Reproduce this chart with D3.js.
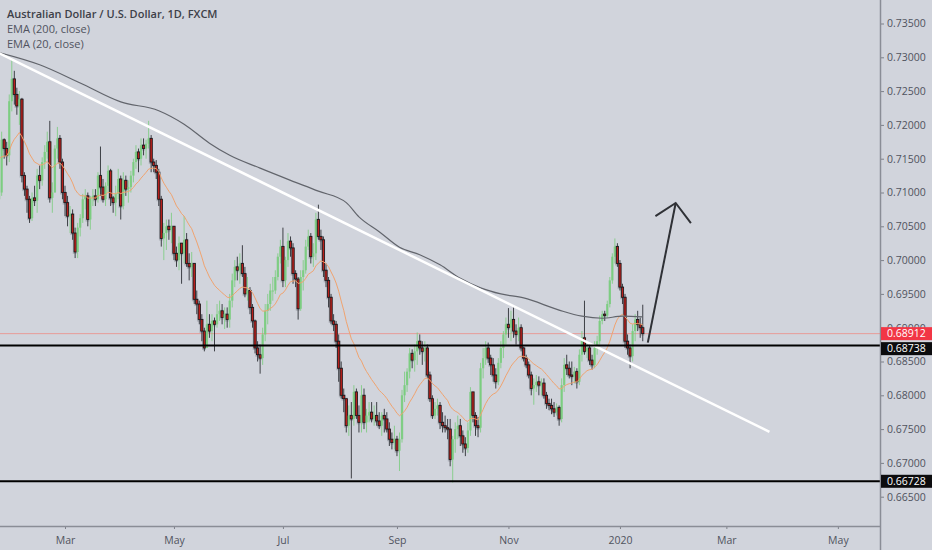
<!DOCTYPE html>
<html>
<head>
<meta charset="utf-8">
<script src="https://cdn.jsdelivr.net/npm/d3@7"></script>
<style>
body { margin: 0; background: #d1d4dc; overflow: hidden; }
text { font-family: "Open Sans", "Noto Sans", sans-serif; }
</style>
</head>
<body>
<script>

// ---- data (AUD/USD daily, FXCM) ----
// one bar per weekday starting at startDate, each bar opens at the previous close
var startDate = "2019-01-24";
var firstOpen = 0.7090;

var closes = [
  // Jan 24 - Jan 31
  0.7100, 0.7178, 0.7165, 0.7155, 0.7235, 0.7268,
  // Feb
  0.7245, 0.7228, 0.7238, 0.7125, 0.7105, 0.7090, 0.7062, 0.7092, 0.7088, 0.7125,
  0.7118, 0.7145, 0.7160, 0.7175, 0.7092, 0.7100, 0.7165, 0.7180, 0.7145, 0.7100,
  // Mar
  0.7085, 0.7065, 0.7068, 0.7040, 0.7012, 0.7048, 0.7062, 0.7090, 0.7095, 0.7060, 0.7092,
  0.7095, 0.7090, 0.7125, 0.7108, 0.7090, 0.7110, 0.7132, 0.7092, 0.7085, 0.7098,
  // Apr
  0.7120, 0.7080, 0.7118, 0.7105, 0.7108, 0.7125, 0.7145, 0.7160, 0.7150, 0.7170, 0.7165,
  0.7172, 0.7180, 0.7145, 0.7140, 0.7130, 0.7090, 0.7032, 0.7040, 0.7050, 0.7045, 0.7050,
  // May
  0.7010, 0.7000, 0.7025, 0.7010, 0.7030, 0.6995, 0.6990, 0.6995, 0.6942, 0.6935, 0.6912, 0.6895,
  0.6870, 0.6905, 0.6895, 0.6910, 0.6905, 0.6920, 0.6925, 0.6915, 0.6920, 0.6912, 0.6940,
  // Jun
  0.6970, 0.6990, 0.6985, 0.6995, 0.6980, 0.6950, 0.6955, 0.6930, 0.6910, 0.6870,
  0.6860, 0.6855, 0.6890, 0.6925, 0.6935, 0.6955, 0.6955, 0.6975, 0.7005, 0.7020,
  // Jul
  0.6970, 0.7000, 0.7028, 0.7018, 0.6980, 0.6972, 0.6928, 0.6975, 0.6985, 0.7020, 0.7035, 0.7005,
  0.7010, 0.7060, 0.7035, 0.7030, 0.6985, 0.6970, 0.6945, 0.6910, 0.6905, 0.6880, 0.6840,
  // Aug
  0.6800, 0.6795, 0.6755, 0.6770, 0.6765, 0.6805, 0.6770, 0.6760, 0.6800, 0.6760, 0.6770,
  0.6775, 0.6765, 0.6770, 0.6762, 0.6755, 0.6770, 0.6765, 0.6750, 0.6735, 0.6730, 0.6735,
  // Sep
  0.6718, 0.6735, 0.6800, 0.6815, 0.6835, 0.6862, 0.6852, 0.6865, 0.6880, 0.6870, 0.6865,
  0.6870, 0.6830, 0.6795, 0.6770, 0.6780, 0.6785, 0.6760, 0.6755, 0.6752, 0.6750,
  // Oct
  0.6705, 0.6735, 0.6750, 0.6755, 0.6740, 0.6728, 0.6722, 0.6748, 0.6805, 0.6770, 0.6755, 0.6752,
  0.6840, 0.6855, 0.6870, 0.6855, 0.6845, 0.6830, 0.6820, 0.6848, 0.6870, 0.6890, 0.6905,
  // Nov
  0.6900, 0.6912, 0.6895, 0.6890, 0.6900, 0.6870, 0.6855, 0.6845, 0.6830, 0.6810, 0.6815,
  0.6820, 0.6815, 0.6818, 0.6800, 0.6788, 0.6785, 0.6780, 0.6775, 0.6782, 0.6765,
  // Dec
  0.6815, 0.6845, 0.6840, 0.6830, 0.6828, 0.6835, 0.6820, 0.6860, 0.6885, 0.6865, 0.6870,
  0.6852, 0.6845, 0.6870, 0.6880, 0.6910, 0.6920, 0.6918, 0.6935, 0.6970, 0.7005, 0.7020,
  // Jan 2020
  0.6995, 0.6960, 0.6945, 0.6880, 0.6870, 0.6858, 0.6895, 0.6912, 0.6905, 0.6900, 0.68912
];

var highs = [
  0.7135, 0.7190, 0.7180, 0.7175, 0.7245, 0.7296,
  0.7280, 0.7255, 0.7250, 0.7240, 0.7130, 0.7110, 0.7095, 0.7100, 0.7110, 0.7135,
  0.7140, 0.7152, 0.7170, 0.7190, 0.7206, 0.7115, 0.7170, 0.7197, 0.7185, 0.7150,
  0.7110, 0.7095, 0.7080, 0.7075, 0.7048, 0.7055, 0.7068, 0.7098, 0.7105, 0.7100, 0.7095,
  0.7105, 0.7105, 0.7130, 0.7168, 0.7120, 0.7115, 0.7140, 0.7135, 0.7095, 0.7110,
  0.7135, 0.7125, 0.7130, 0.7125, 0.7118, 0.7132, 0.7150, 0.7170, 0.7165, 0.7180, 0.7180,
  0.7178, 0.7206, 0.7185, 0.7150, 0.7148, 0.7135, 0.7095, 0.7055, 0.7060, 0.7060, 0.7070,
  0.7050, 0.7020, 0.7035, 0.7025, 0.7065, 0.7040, 0.7010, 0.7012, 0.6995, 0.6955, 0.6940, 0.6920,
  0.6900, 0.6940, 0.6920, 0.6920, 0.6915, 0.6935, 0.6940, 0.6935, 0.6930, 0.6930, 0.6950,
  0.6980, 0.7000, 0.7005, 0.7010, 0.7022, 0.6990, 0.6975, 0.6960, 0.6935, 0.6912,
  0.6880, 0.6875, 0.6900, 0.6935, 0.6950, 0.6965, 0.6975, 0.6985, 0.7010, 0.7030,
  0.7048, 0.7005, 0.7040, 0.7035, 0.7025, 0.6985, 0.6975, 0.6985, 0.7000, 0.7030, 0.7045, 0.7040,
  0.7025, 0.7070, 0.7082, 0.7045, 0.7035, 0.6995, 0.6975, 0.6950, 0.6920, 0.6910, 0.6890,
  0.6850, 0.6810, 0.6795, 0.6785, 0.6790, 0.6815, 0.6810, 0.6785, 0.6815, 0.6810, 0.6780,
  0.6790, 0.6790, 0.6785, 0.6790, 0.6775, 0.6775, 0.6780, 0.6775, 0.6760, 0.6745, 0.6755,
  0.6740, 0.6745, 0.6808, 0.6835, 0.6840, 0.6870, 0.6868, 0.6875, 0.6893, 0.6890, 0.6880,
  0.6880, 0.6875, 0.6835, 0.6800, 0.6790, 0.6795, 0.6790, 0.6775, 0.6770, 0.6765,
  0.6765, 0.6740, 0.6760, 0.6770, 0.6765, 0.6748, 0.6738, 0.6760, 0.6812, 0.6800, 0.6775, 0.6768,
  0.6848, 0.6870, 0.6880, 0.6878, 0.6860, 0.6855, 0.6840, 0.6855, 0.6880, 0.6895, 0.6915,
  0.6929, 0.6925, 0.6930, 0.6905, 0.6915, 0.6905, 0.6872, 0.6860, 0.6850, 0.6835, 0.6825,
  0.6830, 0.6828, 0.6825, 0.6825, 0.6805, 0.6795, 0.6795, 0.6790, 0.6788, 0.6785,
  0.6825, 0.6855, 0.6860, 0.6850, 0.6850, 0.6842, 0.6840, 0.6868, 0.6895, 0.6940, 0.6880,
  0.6875, 0.6860, 0.6880, 0.6888, 0.6918, 0.6925, 0.6925, 0.6940, 0.6975, 0.7010, 0.7032,
  0.7025, 0.7000, 0.6965, 0.6950, 0.6890, 0.6875, 0.6905, 0.6920, 0.6925, 0.6915, 0.6934
];

var lows = [
  0.7070, 0.7095, 0.7150, 0.7140, 0.7145, 0.7220,
  0.7230, 0.7215, 0.7200, 0.7115, 0.7095, 0.7070, 0.7055, 0.7058, 0.7080, 0.7070,
  0.7105, 0.7110, 0.7135, 0.7150, 0.7085, 0.7070, 0.7100, 0.7150, 0.7135, 0.7090,
  0.7065, 0.7050, 0.7040, 0.7030, 0.7003, 0.7003, 0.7035, 0.7055, 0.7075, 0.7050, 0.7045,
  0.7080, 0.7080, 0.7085, 0.7095, 0.7085, 0.7080, 0.7100, 0.7080, 0.7070, 0.7065,
  0.7090, 0.7060, 0.7075, 0.7095, 0.7085, 0.7100, 0.7115, 0.7135, 0.7130, 0.7140, 0.7155,
  0.7150, 0.7165, 0.7130, 0.7130, 0.7120, 0.7080, 0.7020, 0.7000, 0.7015, 0.7030, 0.7025,
  0.7000, 0.6990, 0.6985, 0.6965, 0.6995, 0.6990, 0.6970, 0.6975, 0.6935, 0.6920, 0.6905, 0.6880,
  0.6865, 0.6870, 0.6885, 0.6880, 0.6865, 0.6900, 0.6910, 0.6905, 0.6898, 0.6900, 0.6900,
  0.6930, 0.6960, 0.6970, 0.6965, 0.6975, 0.6945, 0.6940, 0.6920, 0.6900, 0.6862,
  0.6850, 0.6832, 0.6845, 0.6880, 0.6905, 0.6925, 0.6940, 0.6950, 0.6970, 0.6995,
  0.6960, 0.6960, 0.6990, 0.7005, 0.6965, 0.6960, 0.6912, 0.6925, 0.6955, 0.6980, 0.7015, 0.6995,
  0.6990, 0.7000, 0.7030, 0.7015, 0.6975, 0.6960, 0.6930, 0.6905, 0.6895, 0.6870, 0.6820,
  0.6795, 0.6775, 0.6745, 0.6740, 0.6677, 0.6755, 0.6765, 0.6745, 0.6745, 0.6750, 0.6745,
  0.6760, 0.6760, 0.6755, 0.6755, 0.6750, 0.6740, 0.6745, 0.6745, 0.6725, 0.6720, 0.6720,
  0.6710, 0.6688, 0.6730, 0.6790, 0.6805, 0.6825, 0.6840, 0.6835, 0.6845, 0.6860, 0.6845,
  0.6850, 0.6825, 0.6790, 0.6765, 0.6765, 0.6770, 0.6750, 0.6745, 0.6745, 0.6735,
  0.6695, 0.6671, 0.6715, 0.6735, 0.6725, 0.6715, 0.6710, 0.6715, 0.6740, 0.6760, 0.6740, 0.6738,
  0.6745, 0.6825, 0.6845, 0.6848, 0.6830, 0.6820, 0.6810, 0.6815, 0.6840, 0.6855, 0.6875,
  0.6885, 0.6880, 0.6885, 0.6875, 0.6880, 0.6865, 0.6850, 0.6840, 0.6825, 0.6800, 0.6786,
  0.6805, 0.6800, 0.6800, 0.6795, 0.6780, 0.6778, 0.6772, 0.6768, 0.6770, 0.6755,
  0.6760, 0.6805, 0.6830, 0.6825, 0.6815, 0.6818, 0.6810, 0.6815, 0.6850, 0.6860, 0.6855,
  0.6845, 0.6838, 0.6840, 0.6860, 0.6875, 0.6905, 0.6910, 0.6915, 0.6930, 0.6965, 0.6995,
  0.6990, 0.6955, 0.6935, 0.6870, 0.6860, 0.6840, 0.6850, 0.6880, 0.6895, 0.6885, 0.6880
];

// EMA 20 starts from its value at the left edge
var ema20Seed = 0.7150;

// EMA 200 read at points along the grey line
var ema200Dates = ["2019-01-24", "2019-02-15", "2019-03-11", "2019-04-02", "2019-04-23", "2019-05-07",
  "2019-05-21", "2019-05-31", "2019-06-18", "2019-07-04", "2019-07-19", "2019-08-05", "2019-08-12",
  "2019-08-22", "2019-09-03", "2019-09-13", "2019-09-25", "2019-10-07", "2019-10-17", "2019-10-29",
  "2019-11-11", "2019-11-29", "2019-12-12", "2019-12-24", "2020-01-03", "2020-01-15"];
var ema200Values = [0.7307, 0.7289, 0.7262, 0.7234, 0.7221, 0.7201,
  0.7173, 0.7155, 0.7136, 0.7118, 0.7102, 0.7085, 0.7064,
  0.7042, 0.7019, 0.7008, 0.6993, 0.6973, 0.6959, 0.6950,
  0.6944, 0.6926, 0.6917, 0.6914, 0.6917, 0.6916];

// drawings
var levels = [0.68738, 0.66728];
var lastPrice = 0.68912;
var trendDates = ["2019-01-24", "2020-03-25"];
var trendPrices = [0.7306, 0.6746];
var arrowDates = ["2020-01-17", "2020-02-03"];
var arrowPrices = [0.6878, 0.70845];
var arrowHeadDates = ["2020-01-22", "2020-02-03", "2020-02-11"];
var arrowHeadPrices = [0.7065, 0.70845, 0.70548];

// axes
var priceTicks = [0.665, 0.670, 0.675, 0.680, 0.685, 0.690, 0.695, 0.700,
  0.705, 0.710, 0.715, 0.720, 0.725, 0.730, 0.735];
var monthTickDates = ["2019-03-01", "2019-05-01", "2019-07-01", "2019-09-02",
  "2019-11-01", "2020-01-02", "2020-03-02", "2020-05-01"];
var monthTickLabels = ["Mar", "May", "Jul", "Sep", "Nov", "2020", "Mar", "May"];

var legendLines = ["Australian Dollar / U.S. Dollar, 1D, FXCM", "EMA (200, close)", "EMA (20, close)"];

// ---- layout ----
var W = 932, H = 550;
var plotW = 880, plotH = 526;

// weekday calendar: bar index for every date string
var fmt = d3.utcFormat("%Y-%m-%d");
var dayIndex = {};
var d = new Date(startDate + "T00:00:00Z");
for (var n = 0; n < 360; ) {
  var wd = d.getUTCDay();
  if (wd !== 0 && wd !== 6) { dayIndex[fmt(d)] = n; n++; }
  d = new Date(d.getTime() + 86400000);
}
function idx(s) { return dayIndex[s]; }

var x = d3.scaleLinear().domain([idx("2019-03-01"), idx("2019-03-01") + (plotW - 65) / 2.534]).range([65, plotW]);
var y = d3.scaleLinear().domain([0.665, 0.735]).range([496.7, 23.5]);

var bars = closes.map(function(c, i) {
  return { i: i, o: i === 0 ? firstOpen : closes[i - 1], h: highs[i], l: lows[i], c: c };
});

var ema20 = [];
closes.forEach(function(c, i) {
  ema20.push(i === 0 ? ema20Seed : ema20[i - 1] + (2 / 21) * (c - ema20[i - 1]));
});

var svg = d3.select("body").append("svg")
  .attr("width", W).attr("height", H);

svg.append("rect").attr("width", W).attr("height", H).attr("fill", "#d1d4dc");

svg.append("clipPath").attr("id", "plot")
  .append("rect").attr("width", plotW).attr("height", plotH);

var g = svg.append("g").attr("clip-path", "url(#plot)");

// last price line
g.append("line")
  .attr("x1", 0).attr("x2", plotW)
  .attr("y1", y(lastPrice)).attr("y2", y(lastPrice))
  .attr("stroke", "#e79b98").attr("stroke-width", 1);

// candles
var bw = 2.3;
var up = function(b) { return b.c >= b.o; };
var cg = g.append("g");

// soft grey halo the screenshot shows around falling bars
cg.selectAll("rect.halo")
  .data(bars.filter(function(b) { return !up(b); }))
  .enter()
  .append("rect")
  .attr("x", function(b) { return x(b.i) - bw / 2 - 1.2; })
  .attr("y", function(b) { return y(Math.max(b.o, b.c)) - 1; })
  .attr("width", bw + 1.6)
  .attr("height", function(b) { return Math.abs(y(b.o) - y(b.c)) + 3; })
  .attr("fill", "#6f727a")
  .attr("fill-opacity", 0.35);

cg.selectAll("line.wick")
  .data(bars)
  .enter()
  .append("line")
  .attr("x1", function(b) { return x(b.i); })
  .attr("x2", function(b) { return x(b.i); })
  .attr("y1", function(b) { return y(b.h); })
  .attr("y2", function(b) { return y(b.l); })
  .attr("stroke", function(b) { return up(b) ? "#78cc7c" : "#2e3035"; })
  .attr("stroke-opacity", function(b) { return up(b) ? 0.8 : 0.9; })
  .attr("stroke-width", 1);

cg.selectAll("rect.body")
  .data(bars)
  .enter()
  .append("rect")
  .attr("x", function(b) { return x(b.i) - bw / 2; })
  .attr("y", function(b) { return y(Math.max(b.o, b.c)); })
  .attr("width", bw)
  .attr("height", function(b) { return Math.max(1, Math.abs(y(b.o) - y(b.c))); })
  .attr("fill", function(b) { return up(b) ? "#78cc7c" : "#b8201c"; })
  .attr("fill-opacity", function(b) { return up(b) ? 0.85 : 1; })
  .attr("stroke", function(b) { return up(b) ? "none" : "#15161a"; })
  .attr("stroke-width", 0.8);

// moving averages
var line = d3.line()
  .x(function(p) { return x(p[0]); })
  .y(function(p) { return y(p[1]); });

g.append("path")
  .datum(ema20.map(function(v, i) { return [i, v]; }))
  .attr("d", line)
  .attr("fill", "none")
  .attr("stroke", "#f0a36f")
  .attr("stroke-width", 1);

g.append("path")
  .datum(ema200Dates.map(function(s, i) { return [idx(s), ema200Values[i]]; }))
  .attr("d", line.curve(d3.curveMonotoneX))
  .attr("fill", "none")
  .attr("stroke", "#62656c")
  .attr("stroke-width", 1.2);
line.curve(d3.curveLinear);

// trend line
g.append("path")
  .datum(trendDates.map(function(s, i) { return [idx(s), trendPrices[i]]; }))
  .attr("d", line)
  .attr("stroke", "#ffffff")
  .attr("stroke-width", 2.5);

// horizontal levels
g.selectAll("line.level")
  .data(levels)
  .enter()
  .append("line")
  .attr("x1", 0).attr("x2", plotW)
  .attr("y1", function(v) { return y(v); })
  .attr("y2", function(v) { return y(v); })
  .attr("stroke", "#000000")
  .attr("stroke-width", 2);

// arrow
g.append("path")
  .datum(arrowDates.map(function(s, i) { return [idx(s), arrowPrices[i]]; }))
  .attr("d", line)
  .attr("fill", "none")
  .attr("stroke", "#2f3136")
  .attr("stroke-width", 2);
g.append("path")
  .datum(arrowHeadDates.map(function(s, i) { return [idx(s), arrowHeadPrices[i]]; }))
  .attr("d", line)
  .attr("fill", "none")
  .attr("stroke", "#2f3136")
  .attr("stroke-width", 2);

// legend
svg.selectAll("text.legend")
  .data(legendLines)
  .enter()
  .append("text")
  .attr("x", 7)
  .attr("y", function(t, i) { return 18 + i * 15; })
  .attr("font-size", 11)
  .attr("font-weight", function(t, i) { return i === 0 ? 600 : 400; })
  .attr("fill", function(t, i) { return i === 0 ? "#3d4048" : "#50535e"; })
  .text(function(t) { return t; });

// price axis
var yAxis = svg.append("g")
  .attr("transform", "translate(" + plotW + ",0)")
  .call(d3.axisRight(y).tickValues(priceTicks).tickSize(4).tickPadding(3)
    .tickFormat(d3.format(".5f")));
yAxis.select(".domain").remove();
yAxis.selectAll("line").attr("stroke", "#7d8089");
yAxis.selectAll("text").attr("fill", "#50535e").attr("font-size", 10.5)
  .style("font-family", '"Open Sans", sans-serif');
svg.append("line")
  .attr("x1", plotW + 0.5).attr("x2", plotW + 0.5)
  .attr("y1", 0).attr("y2", H)
  .attr("stroke", "#8a8d96").attr("stroke-width", 1.5);

// time axis
var xAxis = svg.append("g")
  .attr("transform", "translate(0," + plotH + ")")
  .call(d3.axisBottom(x).tickValues(monthTickDates.map(idx)).tickSize(3).tickPadding(8)
    .tickFormat(function(v, i) { return monthTickLabels[i]; }));
xAxis.select(".domain").remove();
xAxis.selectAll("line").attr("stroke", "#7d8089");
xAxis.selectAll("text").attr("fill", "#50535e").attr("font-size", 10.5)
  .style("font-family", '"Open Sans", sans-serif');
svg.append("line")
  .attr("x1", 0).attr("x2", plotW)
  .attr("y1", plotH + 0.5).attr("y2", plotH + 0.5)
  .attr("stroke", "#8a8d96").attr("stroke-width", 1.5);

// price labels on the axis, pushed apart when they overlap
var tags = [{ v: lastPrice, fill: "#f23645" }]
  .concat(levels.map(function(v) { return { v: v, fill: "#0c0c0e" }; }));
tags.forEach(function(t) { t.top = y(t.v) - 6.5; });
tags.sort(function(a, b) { return a.top - b.top; });
for (var k = 1; k < tags.length; k++) {
  if (tags[k].top < tags[k - 1].top + 15) tags[k].top = tags[k - 1].top + 15;
}
var tg = svg.selectAll("g.tag")
  .data(tags)
  .enter()
  .append("g");
tg.append("rect")
  .attr("x", plotW + 1)
  .attr("y", function(t) { return t.top; })
  .attr("width", W - plotW - 1)
  .attr("height", 13)
  .attr("fill", function(t) { return t.fill; });
tg.append("text")
  .attr("x", plotW + 7)
  .attr("y", function(t) { return t.top + 10.3; })
  .attr("font-size", 10.5)
  .attr("fill", "#ffffff")
  .text(function(t) { return d3.format(".5f")(t.v); });

</script>
</body>
</html>
